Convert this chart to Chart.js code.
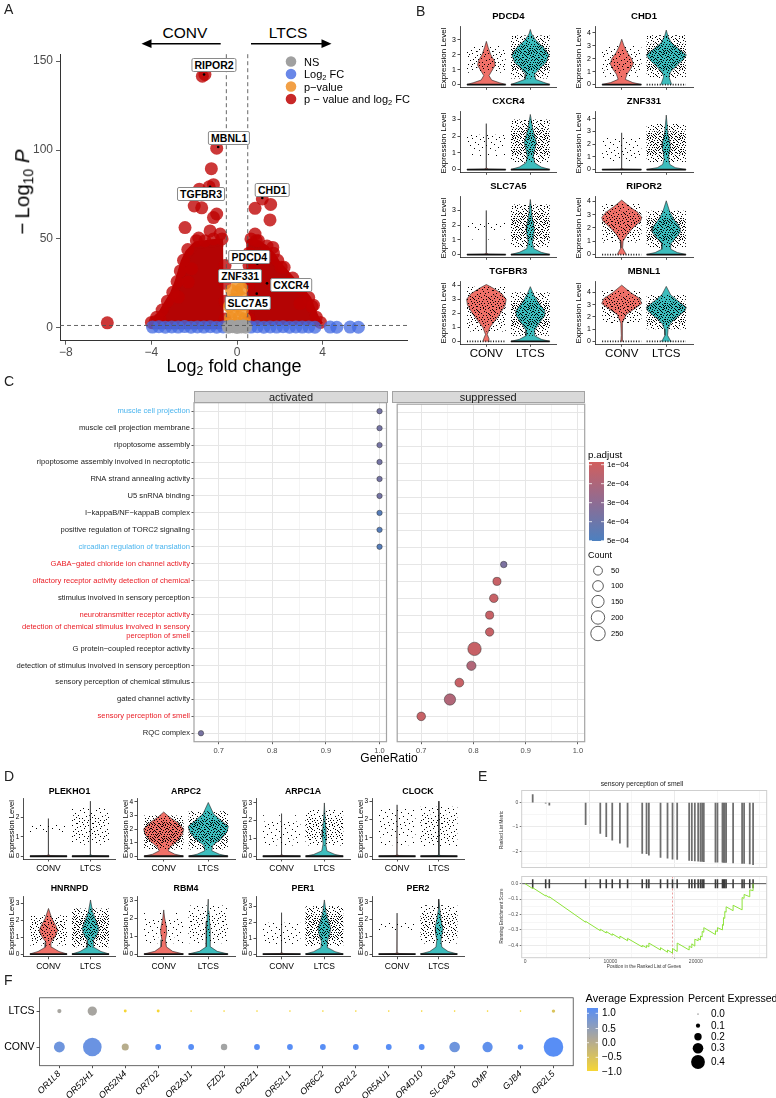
<!DOCTYPE html>
<html>
<head>
<meta charset="utf-8">
<title>Figure</title>
<script src="https://cdn.jsdelivr.net/npm/chart.js@4.4.1/dist/chart.umd.min.js"></script>
<style>
  html, body { margin: 0; padding: 0; background: #fff; }
  body { position: relative; width: 776px; height: 1098px; overflow: hidden;
         font-family: "Liberation Sans", Arial, Helvetica, sans-serif; color: #000; }
  canvas { position: absolute; }
  .t { position: absolute; white-space: nowrap; line-height: 1.15; }
  .t sub { font-size: 0.68em; vertical-align: -0.3em; line-height: 0; }
  .lab { position: absolute; white-space: nowrap; background: #fff; border: 1px solid #8a8a8a;
         border-radius: 2px; padding: 0 2px; font-weight: bold; font-size: 10.5px; line-height: 12px;
         transform: translate(-50%, -50%); }
  #ov { position: absolute; left: 0; top: 0; pointer-events: none; }
</style>
</head>
<body>
<script>
// ---------------- A: volcano plot ----------------
// [log2 fold change, -log10 p]
const volBoth = [
  [-1.62, 141.5], [-1.5, 142.5], [-0.95, 101], [-1.2, 89.5], [-1.1, 80.5], [-1.3, 79.3], [-1.76, 78],
  [-1.65, 67.5], [-2.0, 68.5], [-0.95, 64], [-1.1, 62], [-2.43, 56.4], [-1.26, 54.5], [-1.79, 50.5],
  [-0.79, 52.7], [-2.12, 33.2], [-2.28, 25.7],
  [1.18, 72.5], [1.57, 69.4], [0.84, 67.2], [1.54, 60.7], [1.67, 45.2], [2.06, 34.1], [0.84, 52.7], [0.9, 49],
  [3.57, 12.7], [2.94, 13.6], [-6.06, 2.8], [-3.83, 3.4], [-3.6, 5], [-2.74, 17.3],
  [-4.0, 3], [-3.75, 6], [-3.5, 10], [-3.25, 15], [-3.0, 20], [-2.8, 26], [-2.65, 32], [-2.5, 38],
  [-2.3, 44], [-1.9, 49], [-1.5, 49], [-1.1, 50], [-0.7, 50],
  [0.65, 50], [1.0, 49], [1.4, 46], [1.7, 42], [1.9, 38], [2.2, 34], [2.6, 28], [3.0, 22], [3.35, 17],
  [3.5, 12], [3.7, 6], [3.9, 3],
  [-0.56, 5], [-0.56, 15], [-0.56, 25], [-0.56, 35], [0.56, 5], [0.56, 15], [0.56, 25], [0.56, 35], [0.56, 42]
];
// outline of the solid core of significant genes (left and right)
const volCoreL = [[-0.62, 1.5], [-3.95, 1.5], [-3.7, 5], [-3.45, 9], [-3.2, 14], [-2.95, 19], [-2.75, 25],
  [-2.6, 31], [-2.45, 37], [-2.25, 42], [-1.9, 46.5], [-1.2, 47.5], [-0.65, 48]];
const volCoreR = [[0.62, 1.5], [0.62, 48], [1.0, 47], [1.35, 44], [1.65, 40], [1.85, 36], [2.15, 32],
  [2.55, 26.5], [2.95, 21], [3.3, 16], [3.45, 11], [3.65, 5.5], [3.85, 1.5]];
const volFC = [[-3.95, 0.4], [-3.65, 0.6], [-3.35, 0.3], [-3.05, 0.5], [-2.75, 0.4], [-2.45, 0.7], [-2.15, 0.3],
  [-1.85, 0.5], [-1.55, 0.4], [-1.25, 0.6], [-0.95, 0.3], [-0.65, 0.5], [0.65, 0.4], [0.95, 0.6], [1.25, 0.3],
  [1.55, 0.5], [1.85, 0.4], [2.15, 0.6], [2.45, 0.3], [2.75, 0.5], [3.05, 0.4], [3.35, 0.5],
  [3.64, 0.3], [4.35, 0.4], [4.66, 0.3], [5.28, 0.4], [5.67, 0.3]];
const volP = [[-0.38, 2], [0, 2.5], [0.38, 2.2], [-0.3, 5.5], [0.1, 6], [0.35, 5], [-0.2, 9], [0.25, 9.5],
  [-0.35, 12], [0, 12.5], [0.3, 13], [-0.15, 16], [0.2, 17], [0, 20], [-0.25, 21], [0.22, 22], [0.05, 24]];
const volNS = [[-0.4, 0.3], [-0.2, 0.6], [0, 0.2], [0.2, 0.5], [0.4, 0.3], [-0.3, 0.9], [0.3, 1.0], [0.05, 0.8]];
const volGenes = ['RIPOR2', 'MBNL1', 'TGFBR3', 'CHD1', 'PDCD4', 'ZNF331', 'CXCR4', 'SLC7A5'];
const volGeneFC = [-1.54, -0.88, -1.26, 1.18, 0.95, 0.85, 1.4, 0.92];
const volGeneP = [142.5, 101.7, 79.3, 73, 36, 27, 25, 19.2];
const FC_CUT = 0.5, P_CUT = 1.3;

// ---------------- B / D: violin plots ----------------
const GROUPS = ['CONV', 'LTCS'];
// violin outlines: [expression level, half width]
const PDCD4_CONV = [[0, .45], [.12, .3], [.3, .12], [.6, .06], [.9, .12], [1.3, .2], [1.6, .18], [2.0, .1], [2.5, .04], [2.9, 0]];
const PDCD4_LTCS = [[0, .45], [.15, .3], [.35, .12], [.7, .1], [1.1, .22], [1.5, .36], [2.0, .42], [2.5, .3], [3.0, .12], [3.4, .03], [3.7, 0]];
const CHD1_CONV = [[0, .45], [.15, .25], [.4, .08], [.8, .12], [1.2, .2], [1.6, .26], [2.0, .22], [2.5, .12], [3.0, .05], [3.5, 0]];
const CHD1_LTCS = [[0, .12], [.2, .1], [.6, .06], [1.0, .1], [1.5, .25], [2.0, .4], [2.3, .45], [2.7, .3], [3.2, .12], [3.7, .04], [4.2, 0]];
const CXCR4_CONV = [[0, .45], [.03, .05], [.08, .006], [2.75, 0]];
const CXCR4_LTCS = [[0, .45], [.15, .25], [.4, .1], [.8, .07], [1.2, .1], [1.6, .14], [2.0, .1], [2.5, .05], [3.0, .02], [3.3, 0]];
const ZNF331_CONV = [[0, .45], [.03, .05], [.08, .006], [2.9, 0]];
const ZNF331_LTCS = [[0, .45], [.15, .2], [.4, .08], [.8, .05], [1.2, .06], [1.7, .09], [2.2, .08], [2.8, .04], [3.5, .02], [4.3, 0]];
const SLC7A5_CONV = [[0, .45], [.03, .05], [.08, .006], [3.0, 0]];
const SLC7A5_LTCS = [[0, .45], [.15, .25], [.4, .08], [.8, .05], [1.2, .07], [1.6, .09], [2.0, .08], [2.6, .04], [3.2, .02], [3.75, 0]];
const RIPOR2_CONV = [[0, .1], [.2, .07], [.5, .02], [1.0, .03], [1.5, .12], [2.0, .25], [2.5, .42], [2.8, .45], [3.2, .35], [3.6, .18], [4.1, 0]];
const RIPOR2_LTCS = [[0, .45], [.15, .25], [.4, .1], [.8, .1], [1.2, .2], [1.7, .32], [2.1, .3], [2.6, .18], [3.2, .08], [4.05, 0]];
const TGFBR3_CONV = [[0, .08], [.2, .06], [.5, .02], [1.0, .08], [1.5, .2], [2.0, .32], [2.6, .43], [3.0, .45], [3.4, .35], [3.8, .15], [4.05, 0]];
const TGFBR3_LTCS = [[0, .45], [.15, .25], [.4, .1], [.8, .1], [1.3, .2], [1.8, .32], [2.2, .33], [2.7, .2], [3.3, .08], [3.9, 0]];
const MBNL1_CONV = [[0, .02], [.5, .01], [1.5, .02], [2.2, .1], [2.7, .3], [3.1, .45], [3.5, .4], [4.0, .2], [4.6, 0]];
const MBNL1_LTCS = [[0, .12], [.15, .08], [.5, .03], [1.0, .04], [1.5, .1], [2.0, .25], [2.5, .42], [2.8, .45], [3.2, .3], [3.8, .1], [4.5, 0]];
const PLEKHO1_CONV = [[0, .45], [.03, .05], [.08, .006], [1.95, 0]];
const PLEKHO1_LTCS = [[0, .45], [.03, .05], [.08, .006], [2.85, 0]];
const ARPC2_CONV = [[0, .45], [.15, .25], [.4, .1], [.7, .15], [1.1, .3], [1.6, .42], [2.0, .45], [2.5, .3], [2.9, .12], [3.25, 0]];
const ARPC2_LTCS = [[0, .45], [.15, .25], [.4, .08], [.8, .1], [1.3, .3], [1.8, .42], [2.2, .45], [2.6, .3], [3.1, .12], [3.95, 0]];
const ARPC1A_CONV = [[0, .45], [.03, .05], [.08, .006], [2.4, 0]];
const ARPC1A_LTCS = [[0, .45], [.1, .25], [.3, .06], [.7, .03], [1.1, .05], [1.5, .04], [2.0, .02], [3.0, 0]];
const CLOCK_CONV = [[0, .45], [.03, .05], [.08, .006], [2.8, 0]];
const CLOCK_LTCS = [[0, .45], [.03, .05], [.08, .006], [3.0, 0]];
const HNRNPD_CONV = [[0, .45], [.15, .25], [.4, .08], [.7, .06], [1.0, .15], [1.4, .22], [1.7, .17], [2.1, .08], [2.7, 0]];
const HNRNPD_LTCS = [[0, .45], [.15, .25], [.4, .08], [.8, .07], [1.1, .15], [1.5, .2], [1.9, .14], [2.5, .05], [3.2, 0]];
const RBM4_CONV = [[0, .45], [.15, .2], [.4, .06], [.8, .04], [1.2, .07], [1.5, .06], [2.0, .02], [2.45, 0]];
const RBM4_LTCS = [[0, .45], [.15, .2], [.4, .05], [.9, .04], [1.3, .05], [1.8, .03], [2.4, .015], [3.05, 0]];
const PER1_CONV = [[0, .45], [.03, .05], [.08, .006], [2.6, 0]];
const PER1_LTCS = [[0, .45], [.15, .25], [.4, .08], [.8, .07], [1.2, .12], [1.6, .15], [2.0, .1], [2.6, .04], [3.4, 0]];
const PER2_CONV = [[0, .45], [.03, .05], [.08, .006], [2.35, 0]];
const PER2_LTCS = [[0, .45], [.15, .22], [.4, .07], [.8, .05], [1.2, .08], [1.5, .09], [2.0, .05], [2.6, .02], [3.15, 0]];

const genesB = ['PDCD4', 'CHD1', 'CXCR4', 'ZNF331', 'SLC7A5', 'RIPOR2', 'TGFBR3', 'MBNL1'];
const maxB = [3.7, 4.25, 3.3, 4.35, 3.75, 4.15, 4.05, 4.65];
// expressing-cell clouds: [low, high, density 1-5] for CONV, LTCS
const cloudB = [
  [[0.8, 2.6, 3], [0.4, 3.3, 5]], [[0.6, 3.0, 3], [0.5, 3.8, 5]],
  [[0.8, 2.4, 2], [0.4, 3.0, 5]], [[0.6, 2.7, 2], [0.6, 3.6, 5]],
  [[0.6, 2.7, 1], [0.5, 3.4, 5]], [[0.9, 3.8, 4], [0.5, 3.3, 5]],
  [[0.7, 3.9, 4], [0.4, 3.5, 5]], [[1.5, 4.2, 4], [1.0, 3.8, 5]]
];
const genesD = ['PLEKHO1', 'ARPC2', 'ARPC1A', 'CLOCK', 'HNRNPD', 'RBM4', 'PER1', 'PER2'];
const maxD = [2.85, 4.05, 3.1, 3.0, 3.25, 3.05, 3.45, 3.15];
const cloudD = [
  [[0.8, 1.9, 1], [0.6, 2.5, 3]], [[0.5, 3.0, 5], [0.5, 3.3, 5]],
  [[0.6, 2.3, 2], [0.6, 2.6, 4]], [[0.6, 2.7, 2], [0.5, 2.7, 3]],
  [[0.5, 2.3, 4], [0.4, 2.7, 5]], [[0.6, 2.3, 2], [0.6, 2.7, 3]],
  [[0.6, 2.3, 2], [0.5, 3.0, 5]], [[0.8, 2.2, 1], [0.6, 2.8, 4]]
];
const SHAPES = {
  PDCD4: [PDCD4_CONV, PDCD4_LTCS], CHD1: [CHD1_CONV, CHD1_LTCS], CXCR4: [CXCR4_CONV, CXCR4_LTCS],
  ZNF331: [ZNF331_CONV, ZNF331_LTCS], SLC7A5: [SLC7A5_CONV, SLC7A5_LTCS], RIPOR2: [RIPOR2_CONV, RIPOR2_LTCS],
  TGFBR3: [TGFBR3_CONV, TGFBR3_LTCS], MBNL1: [MBNL1_CONV, MBNL1_LTCS], PLEKHO1: [PLEKHO1_CONV, PLEKHO1_LTCS],
  ARPC2: [ARPC2_CONV, ARPC2_LTCS], ARPC1A: [ARPC1A_CONV, ARPC1A_LTCS], CLOCK: [CLOCK_CONV, CLOCK_LTCS],
  HNRNPD: [HNRNPD_CONV, HNRNPD_LTCS], RBM4: [RBM4_CONV, RBM4_LTCS], PER1: [PER1_CONV, PER1_LTCS],
  PER2: [PER2_CONV, PER2_LTCS]
};

// ---------------- C: GO enrichment dot plot ----------------
const goTerms = [
  'muscle cell projection', 'muscle cell projection membrane', 'ripoptosome assembly',
  'ripoptosome assembly involved in necroptotic', 'RNA strand annealing activity', 'U5 snRNA binding',
  'I\u2212kappaB/NF\u2212kappaB complex', 'positive regulation of TORC2 signaling', 'circadian regulation of translation',
  'GABA\u2212gated chloride ion channel activity', 'olfactory receptor activity detection of chemical',
  'stimulus involved in sensory perception', 'neurotransmitter receptor activity',
  ['detection of chemical stimulus involved in sensory', 'perception of smell'],
  'G protein\u2212coupled receptor activity', 'detection of stimulus involved in sensory perception',
  'sensory perception of chemical stimulus', 'gated channel activity', 'sensory perception of smell', 'RQC complex'
];
const goSide = ['activated', 'activated', 'activated', 'activated', 'activated', 'activated', 'activated',
  'activated', 'activated', 'suppressed', 'suppressed', 'suppressed', 'suppressed', 'suppressed', 'suppressed',
  'suppressed', 'suppressed', 'suppressed', 'suppressed', 'activated'];
const goRatio = [1.0, 1.0, 1.0, 1.0, 1.0, 1.0, 1.0, 1.0, 1.0, 0.858, 0.845, 0.839, 0.831, 0.831, 0.802, 0.796, 0.773, 0.755, 0.70, 0.667];
const goPadj = [3.8e-4, 3.8e-4, 3.8e-4, 3.8e-4, 3.8e-4, 3.8e-4, 4.7e-4, 4.7e-4, 4.7e-4, 3.6e-4, 1.3e-4, 1.3e-4,
  1.3e-4, 1.3e-4, 1.3e-4, 2.0e-4, 1.3e-4, 2.0e-4, 1.3e-4, 3.7e-4];
const goCount = [3, 3, 3, 3, 3, 3, 3, 3, 3, 12, 35, 45, 35, 40, 200, 60, 50, 120, 45, 3];
const padjTicks = [1e-4, 2e-4, 3e-4, 4e-4, 5e-4];
const countTicks = [50, 100, 150, 200, 250];

// ---------------- E: GSEA running score ----------------
const hitPos = [897, 2417, 2846, 7096, 8811, 9513, 10214, 11111, 12008, 13723, 14230, 14503, 15867, 16686, 17271,
  17817, 19220, 19532, 19883, 20273, 20546, 20741, 20935, 22300, 22534, 23119, 23236, 23392, 23548, 24366, 25419,
  25653, 26316, 26706];
const hitMetric = [0.33, -0.02, -0.1, -0.91, -1.27, -1.4, -1.54, -1.67, -1.83, -2.09, -2.1, -2.16, -2.26, -2.29,
  -2.33, -2.34, -2.38, -2.39, -2.4, -2.41, -2.42, -2.42, -2.43, -2.45, -2.45, -2.45, -2.46, -2.46, -2.46, -2.48,
  -2.5, -2.5, -2.52, -2.55];
const esCurve = [[0, 0], [897, -0.032], [897, -0.026], [2417, -0.08], [2417, -0.075], [2846, -0.09], [2846, -0.085],
  [7096, -0.25], [7096, -0.244], [8811, -0.305], [8811, -0.295], [9513, -0.32], [9513, -0.31], [10214, -0.335],
  [10214, -0.325], [11111, -0.355], [11111, -0.34], [12008, -0.37], [12008, -0.355], [13723, -0.41], [13723, -0.4],
  [14230, -0.415], [14230, -0.4], [14503, -0.41], [14503, -0.385], [15867, -0.43], [15867, -0.415], [16686, -0.445],
  [16686, -0.43], [17271, -0.45], [17271, -0.42], [17817, -0.44], [17817, -0.385], [19220, -0.43], [19220, -0.405],
  [19532, -0.415], [19532, -0.39], [19883, -0.405], [19883, -0.36], [20273, -0.37], [20273, -0.355], [20546, -0.365],
  [20546, -0.34], [20741, -0.345], [20741, -0.31], [20935, -0.315], [20935, -0.285], [22300, -0.33], [22300, -0.305],
  [22534, -0.31], [22534, -0.285], [23119, -0.30], [23119, -0.265], [23236, -0.27], [23236, -0.22], [23392, -0.225],
  [23392, -0.18], [23548, -0.185], [23548, -0.15], [24366, -0.175], [24366, -0.14], [25419, -0.17], [25419, -0.09],
  [25653, -0.095], [25653, -0.07], [26316, -0.085], [26316, -0.04], [26706, -0.045], [26706, 0]];
const esPeakPos = 17271;

// ---------------- F: dot plot ----------------
const genesF = ['OR1L8', 'OR52H1', 'OR52N4', 'OR7D2', 'OR2AJ1', 'FZD2', 'OR2Z1', 'OR52L1', 'OR6C2', 'OR2L2',
  'OR5AU1', 'OR4D10', 'SLC6A3', 'OMP', 'GJB4', 'OR2L5'];
const pctCONV = [0.31, 0.55, 0.19, 0.15, 0.15, 0.17, 0.15, 0.15, 0.15, 0.15, 0.15, 0.15, 0.30, 0.29, 0.14, 0.58];
const pctLTCS = [0.10, 0.26, 0.06, 0.06, 0.02, 0.02, 0.02, 0.02, 0.02, 0.02, 0.02, 0.02, 0.02, 0.02, 0.02, 0.075];
const avgCONV = [0.75, 0.8, -0.1, 1, 1, 0.15, 1, 1, 1, 1, 1, 1, 0.75, 0.9, 1, 1];
const avgLTCS = [0.1, 0.1, -1, -1, -1, -1, -1, -1, -1, -1, -1, -1, -1, -1, -1, -0.6];
const avgTicks = [1.0, 0.5, 0.0, -0.5, -1.0];
const pctTicks = [0.0, 0.1, 0.2, 0.3, 0.4];

// ======================================================================
const FONT = '"Liberation Sans", Arial, Helvetica, sans-serif';
Chart.defaults.font.family = FONT;
Chart.defaults.animation = false;
Chart.defaults.events = [];

const MINUS = '\u2212';
const fmt = v => String(v).replace('-', MINUS);

// draws a box round the plotting panel
Chart.register({
  id: 'frame',
  afterDatasetsDraw(chart, args, o) {
    if (!o || !o.color) return;
    const a = chart.chartArea, ctx = chart.ctx;
    ctx.save();
    ctx.strokeStyle = o.color;
    ctx.lineWidth = o.width || 1;
    ctx.strokeRect(a.left, a.top, a.right - a.left, a.bottom - a.top);
    ctx.restore();
  }
});

function T(txt, x, y, o = {}) {
  const d = document.createElement('div');
  d.className = 't';
  if (o.html) d.innerHTML = txt; else d.textContent = txt;
  const s = d.style;
  s.left = x + 'px';
  s.top = y + 'px';
  s.fontSize = (o.size || 10) + 'px';
  s.fontWeight = o.bold ? 'bold' : 'normal';
  if (o.italic) s.fontStyle = 'italic';
  s.color = o.color || '#000';
  const ax = o.align === 'left' ? '0' : o.align === 'right' ? '-100%' : '-50%';
  s.transform = 'translate(' + ax + ',-50%)' + (o.rot ? ' rotate(' + o.rot + 'deg)' : '');
  document.body.appendChild(d);
  return d;
}

// place a chart so that its plotting area is exactly area = [left, top, right, bottom]
function mk(area, pad, config) {
  const [l, t, r, b] = area;
  const cl = Math.round(l - pad[0]), ct = Math.round(t - pad[1]);
  const w = Math.round(r - cl + pad[2]), h = Math.round(b - ct + pad[3]);
  const pl = l - cl, pt = t - ct, pr = w - (r - cl), pb = h - (b - ct);
  const cv = document.createElement('canvas');
  cv.width = w; cv.height = h;
  cv.style.left = cl + 'px'; cv.style.top = ct + 'px';
  cv.style.width = w + 'px'; cv.style.height = h + 'px';
  document.body.appendChild(cv);
  const opt = config.options;
  opt.responsive = false;
  opt.maintainAspectRatio = false;
  opt.animation = false;
  opt.devicePixelRatio = 1;
  opt.layout = {padding: {left: 0, top: pt, right: pr, bottom: 0}};
  opt.scales.x.afterFit = s => { s.height = pb; };
  opt.scales.y.afterFit = s => { s.width = pl; };
  opt.plugins = Object.assign({legend: {display: false}, tooltip: {enabled: false}}, opt.plugins || {});
  const ch = new Chart(cv, config);
  ch.$ox = cl; ch.$oy = ct;
  return ch;
}

function lin(min, max, ticks, o = {}) {
  return {
    type: 'linear', min: min, max: max, offset: false, reverse: !!o.reverse,
    afterBuildTicks: s => { s.ticks = ticks.map(v => ({value: v})); },
    grid: Object.assign({display: true, drawOnChartArea: false, drawTicks: true, tickLength: o.tl ?? 3,
      tickWidth: 0.8, tickColor: o.tc || '#222', color: 'rgba(0,0,0,0)', lineWidth: 1}, o.grid || {}),
    border: {display: o.border !== false, color: o.bc || '#222', width: o.bw || 0.8},
    ticks: {display: o.labels !== false, color: o.color || '#333', padding: o.pad ?? 2, autoSkip: false,
      maxRotation: o.rot || 0, minRotation: o.rot || 0,
      font: {size: o.size || 8, style: o.italic ? 'italic' : 'normal', lineHeight: o.lh || 1.2},
      callback: o.cb || fmt}
  };
}

const mix = (a, b, t) => a.map((v, i) => Math.round(v + (b[i] - v) * t));
const rgb = c => 'rgb(' + c.join(',') + ')';
function ramp3(stops, t) {   // t in [0,1]
  t = Math.max(0, Math.min(1, t));
  return t < 0.5 ? mix(stops[0], stops[1], t * 2) : mix(stops[1], stops[2], (t - 0.5) * 2);
}
const PADJ_STOPS = [[209, 95, 94], [144, 108, 146], [76, 128, 192]];
const padjCol = p => rgb(ramp3(PADJ_STOPS, (p - 1e-4) / 4e-4));
const countR = c => 2.7 + 0.322 * (Math.sqrt(c) - Math.sqrt(3));
const AVG_STOPS = [[246, 214, 53], [176, 168, 150], [88, 142, 245]];
const avgCol = v => rgb(ramp3(AVG_STOPS, (v + 1) / 2));
const pctR = p => 0.5 + 16 * p;

// stipple texture for the jittered cells of the violin plots (fixed tile, a fill style)
const DOTS = [[3, 1], [11, 0], [7, 3], [14, 4], [1, 6], [9, 7], [5, 9], [13, 10], [2, 12], [10, 13], [6, 15], [15, 14],
  [0, 2], [8, 1], [4, 5], [12, 6], [15, 8], [2, 9], [7, 11], [11, 11], [0, 14], [5, 13], [13, 2], [9, 4],
  [6, 7], [14, 12], [3, 15], [10, 9], [1, 3], [12, 15], [4, 11], [8, 14], [15, 1], [6, 0], [11, 5], [2, 4],
  [13, 7], [0, 10], [9, 12], [5, 2], [7, 6], [1, 8], [10, 2], [14, 9], [3, 13], [12, 12], [8, 9], [4, 0],
  [15, 11], [6, 4], [0, 6], [11, 14], [2, 1], [9, 15], [13, 4], [5, 11], [14, 0], [7, 13], [1, 15], [10, 6],
  [3, 7], [12, 9], [8, 3], [4, 14]];
function dotTile(n) {
  const t = document.createElement('canvas');
  t.width = 16; t.height = 16;
  const g = t.getContext('2d');
  g.fillStyle = '#000';
  DOTS.slice(0, n).forEach(d => g.fillRect(d[0], d[1], 1, 1));
  return g.createPattern(t, 'repeat');
}
const PAT = ['rgba(0,0,0,0)', dotTile(5), dotTile(12), dotTile(22), dotTile(38), dotTile(64)];

// ---------------- panel A ----------------
const xy = arr => arr.map(p => ({x: p[0], y: p[1]}));
const volGuides = {
  id: 'volGuides',
  afterDatasetsDraw(chart) {
    const {ctx, chartArea: a, scales: {x, y}} = chart;
    ctx.save();
    ctx.setLineDash([4, 3]);
    ctx.strokeStyle = '#555';
    ctx.lineWidth = 0.9;
    ctx.beginPath();
    [-FC_CUT, FC_CUT].forEach(v => {
      const px = x.getPixelForValue(v);
      ctx.moveTo(px, a.top); ctx.lineTo(px, a.bottom);
    });
    const py = y.getPixelForValue(P_CUT);
    ctx.moveTo(a.left, py); ctx.lineTo(a.right, py);
    ctx.stroke();
    ctx.restore();
  }
};
const RED = 'rgba(190,0,0,0.78)';
const core = d => ({type: 'line', data: xy(d), showLine: true, fill: 'shape', backgroundColor: '#b40404',
  borderColor: '#b40404', borderWidth: 8, borderJoinStyle: 'round', pointRadius: 0, order: 9, clip: false});
const volChart = mk([60, 52, 407, 340.7], [60, 8, 8, 30], {
  type: 'scatter',
  data: {datasets: [
    {data: volGeneFC.map((v, i) => ({x: v, y: volGeneP[i]})), pointRadius: 1.3, backgroundColor: '#000', borderWidth: 0, order: 0},
    {data: xy(volNS), pointRadius: 6.5, backgroundColor: 'rgba(160,160,160,0.9)', borderWidth: 0, order: 1},
    {data: xy(volFC), pointRadius: 6.5, backgroundColor: 'rgba(65,105,225,0.75)', borderWidth: 0, order: 2},
    {data: xy(volP), pointRadius: 6.5, backgroundColor: 'rgba(240,145,35,0.8)', borderWidth: 0, order: 3},
    {data: xy(volBoth), pointRadius: 6.5, backgroundColor: RED, borderWidth: 0, order: 4, clip: false},
    core(volCoreL), core(volCoreR)
  ]},
  options: {
    scales: {
      x: lin(-8.27, 7.94, [-8, -4, 0, 4], {size: 12, color: '#4d4d4d', tl: 4, tc: '#333', bc: '#333', bw: 1, pad: 1}),
      y: lin(-7.26, 153.9, [0, 50, 100, 150], {size: 12, color: '#4d4d4d', tl: 4, tc: '#333', bc: '#333', bw: 1, pad: 3})
    }
  },
  plugins: [volGuides]
});
volGenes.forEach((g, i) => {
  const OFF = [[10, -9], [11, -9], [-9, 7], [10, -8], [-8, -7], [-15, -4], [24, 2], [-9, 9]][i];
  const px = volChart.scales.x.getPixelForValue(volGeneFC[i]) + volChart.$ox;
  const py = volChart.scales.y.getPixelForValue(volGeneP[i]) + volChart.$oy;
  const d = document.createElement('div');
  d.className = 'lab';
  d.textContent = g;
  d.style.left = (px + OFF[0]) + 'px';
  d.style.top = (py + OFF[1]) + 'px';
  document.body.appendChild(d);
});
T(MINUS + '\u2009Log<sub>10</sub> <i>P</i>', 22, 192, {html: true, size: 20.5, rot: -90});
T('Log<sub>2</sub> fold change', 234, 366, {html: true, size: 18});
T('CONV', 185, 33, {size: 15.5});
T('LTCS', 288, 33, {size: 15.5});
const legA = [['NS', 'rgb(160,160,160)'], ['Log<sub>2</sub> FC', 'rgb(105,135,232)'], ['p' + MINUS + 'value', 'rgb(242,160,70)'],
  ['p ' + MINUS + ' value and log<sub>2</sub> FC', 'rgb(200,40,40)']];

// ---------------- panels B and D ----------------
const JIT = 0.44;
const VCOL = ['#ef7068', '#3dbdbd'];
function cloudRect(c, lo, hi, pat, ord) {
  return {type: 'line', data: [{x: c - JIT, y: lo}, {x: c + JIT, y: lo}, {x: c + JIT, y: hi}, {x: c - JIT, y: hi}],
    showLine: true, fill: 'shape', backgroundColor: pat, borderColor: 'rgba(0,0,0,0)', borderWidth: 0,
    pointRadius: 0, order: ord, clip: false};
}
function violin(gene, max, clouds, area, o) {
  const ds = [];
  SHAPES[gene].forEach((s, g) => {
    const c = g + 1;
    const right = s.map(p => ({x: c + p[1], y: p[0]}));
    const left = s.slice().reverse().map(p => ({x: c - p[1], y: p[0]}));
    ds.push({type: 'line', data: right.concat(left), showLine: true, fill: 'shape', backgroundColor: VCOL[g],
      borderColor: '#222', borderWidth: 0.6, pointRadius: 0, order: 5, clip: false});
    const cl = clouds[g], m = (cl[1] - cl[0]) * 0.2;
    ds.push(cloudRect(c, cl[0], cl[1], PAT[cl[2] - 1], 3));
    ds.push(cloudRect(c, cl[0] + m, cl[1] - m, PAT[cl[2]], 2));
    ds.push({type: 'line', data: [{x: c - JIT, y: 0}, {x: c + JIT, y: 0}], showLine: true, borderColor: '#111',
      borderWidth: 1.8, borderDash: s[0][1] < 0.2 ? [1, 1.6] : [], pointRadius: 0, order: 1, clip: false});
  });
  const yt = [];
  for (let v = 0; v <= max; v++) yt.push(v);
  mk(area, [o.padL, 5, 3, o.padB], {
    type: 'scatter',
    data: {datasets: ds},
    options: {scales: {
      x: lin(0.4, 2.6, [1, 2], {cb: v => o.showX ? GROUPS[v - 1] : '', size: o.xSize, color: '#000', pad: o.xPad, tl: 2.5}),
      y: lin(-0.05 * max, 1.05 * max, yt, {size: o.ySize, color: '#000', pad: 1.5, tl: 2.5})
    }}
  });
  T(gene, (area[0] + area[2]) / 2, area[1] - o.titleOff, {size: o.titleSize, bold: true});
  T('Expression Level', area[0] - o.ytOff, (area[1] + area[3]) / 2, {size: o.ytSize, rot: -90});
}
const colsB = [[460, 556.7], [595, 693]];
genesB.forEach((g, i) => {
  const r = Math.floor(i / 2), c = colsB[i % 2];
  violin(g, maxB[i], cloudB[i], [c[0], 26 + 85 * r, c[1], 89.3 + 85 * r],
    {showX: r === 3, padL: 15, padB: r === 3 ? 18 : 4, xSize: 11.5, xPad: 0, ySize: 7, titleSize: 9.5, titleOff: 10, ytOff: 16, ytSize: 8});
});
const colsD = [[23.3, 115.7], [137, 235], [256, 350], [372, 464]];
const rowsD = [[798, 859], [895.8, 956.8]];
genesD.forEach((g, i) => {
  const r = Math.floor(i / 4), c = colsD[i % 4];
  violin(g, maxD[i], cloudD[i], [c[0], rowsD[r][0], c[1], rowsD[r][1]],
    {showX: true, padL: 10, padB: 16, xSize: 8.5, xPad: 2.5, ySize: 6.5, titleSize: 8.8, titleOff: 7.5, ytOff: 11.5, ytSize: 7.6});
});

// ---------------- panel C ----------------
const BLUE_TERMS = [0, 8], RED_TERMS = [9, 10, 12, 13, 18];
const termColor = i => BLUE_TERMS.includes(i) ? '#4ab4ee' : RED_TERMS.includes(i) ? '#ea1b23' : '#1a1a1a';
const isMajor = v => Math.abs(v * 10 - Math.round(v * 10)) < 1e-6;
function goChart(side, area, pad, showY) {
  const pts = [];
  goTerms.forEach((t, i) => {
    if (goSide[i] === side) pts.push({x: goRatio[i], y: i, padj: goPadj[i], count: goCount[i]});
  });
  const rows = goTerms.map((t, i) => i);
  const xs = lin(0.654, 1.013, [0.7, 0.75, 0.8, 0.85, 0.9, 0.95, 1.0], {
    size: 7.5, color: '#4d4d4d', border: false, tl: 2.5, pad: 2,
    cb: v => isMajor(v) ? v.toFixed(1) : '',
    grid: {drawOnChartArea: true, color: c => c.tick && isMajor(c.tick.value) ? '#e6e6e6' : '#f4f4f4',
      tickColor: c => c.tick && isMajor(c.tick.value) ? '#333' : 'rgba(0,0,0,0)'}
  });
  const ys = lin(-0.5, 19.5, rows, {
    reverse: true, size: 7.6, lh: 1.1, border: false, tl: 2.5, pad: 1.5, labels: showY,
    cb: v => goTerms[v],
    grid: {drawOnChartArea: true, color: '#e6e6e6', drawTicks: showY, tickColor: '#333'}
  });
  ys.ticks.color = c => termColor(c.tick ? c.tick.value : 0);
  mk(area, pad, {
    type: 'scatter',
    data: {datasets: [{data: pts, pointRadius: c => c.raw ? countR(c.raw.count) : 3,
      backgroundColor: c => c.raw ? padjCol(c.raw.padj) : '#888', borderColor: '#333', borderWidth: 0.5, clip: false}]},
    options: {plugins: {frame: {color: '#a3a3a3', width: 1.2}}, scales: {x: xs, y: ys}}
  });
}
goChart('activated', [194, 402.7, 388, 741.7], [194, 6, 3, 14], true);
goChart('suppressed', [391.7, 402.7, 584.7, 741.7], [2, 6, 8, 14], false);
T('GeneRatio', 389, 759, {size: 12});

// ---------------- panel E ----------------
const eGrid = (majors) => ({drawOnChartArea: true, drawTicks: true,
  color: c => c.tick && majors.some(m => Math.abs(m - c.tick.value) < 1e-9) ? '#ebebeb' : '#f6f6f6',
  tickColor: c => c.tick && majors.some(m => Math.abs(m - c.tick.value) < 1e-9) ? '#555' : 'rgba(0,0,0,0)'});
const eXT = [0, 5000, 10000, 15000, 20000, 25000], eXM = [0, 10000, 20000];
mk([521.7, 789, 766.7, 870], [24, 3, 3, 2], {
  type: 'bar',
  data: {datasets: [{data: hitPos.map((p, i) => ({x: p, y: hitMetric[i]})), backgroundColor: '#6e6e6e',
    barThickness: 1.1, borderWidth: 0}]},
  options: {
    plugins: {frame: {color: '#cfcfcf', width: 1}},
    scales: {
      x: lin(-390, 28300, eXT, {labels: false, border: false, tl: 0, grid: Object.assign(eGrid(eXM), {drawTicks: false})}),
      y: lin(-2.67, 0.5, [-2.5, -2, -1.5, -1, -0.5, 0], {size: 5, color: '#4d4d4d', border: false, tl: 2, pad: 1.5,
        cb: v => Number.isInteger(v) ? fmt(v) : '', grid: eGrid([-2, -1, 0])})
    }
  }
});
const esGuides = {
  id: 'esGuides',
  beforeDatasetsDraw(chart) {
    const {ctx, chartArea: a, scales: {x, y}} = chart;
    ctx.save();
    ctx.strokeStyle = '#e27777';
    ctx.lineWidth = 0.7;
    ctx.setLineDash([2, 2]);
    const px = x.getPixelForValue(esPeakPos);
    ctx.beginPath(); ctx.moveTo(px, a.top); ctx.lineTo(px, a.bottom); ctx.stroke();
    ctx.setLineDash([]);
    ctx.strokeStyle = '#444';
    ctx.lineWidth = 0.9;
    const py = y.getPixelForValue(0);
    ctx.beginPath(); ctx.moveTo(a.left, py); ctx.lineTo(a.right, py); ctx.stroke();
    ctx.restore();
  }
};
mk([521.7, 875, 766.7, 957.7], [24, 3, 3, 9], {
  type: 'line',
  data: {datasets: [
    {data: xy(esCurve), borderColor: '#8ee33a', borderWidth: 1, pointRadius: 0, tension: 0, order: 0},
    {type: 'bar', data: hitPos.map(p => ({x: p, y: [-0.028, 0.026]})), backgroundColor: '#3a3a3a', barThickness: 0.9,
      borderWidth: 0, order: 1}
  ]},
  options: {
    plugins: {frame: {color: '#cfcfcf', width: 1}},
    scales: {
      x: lin(-390, 28300, eXT, {size: 5, color: '#4d4d4d', border: false, tl: 1, pad: 0,
        cb: v => eXM.includes(v) ? String(v) : '', grid: eGrid(eXM)}),
      y: lin(-0.48, 0.0465, [-0.45, -0.4, -0.35, -0.3, -0.25, -0.2, -0.15, -0.1, -0.05, 0], {size: 5, color: '#4d4d4d',
        border: false, tl: 2, pad: 1.5, cb: v => isMajor(v) ? fmt(v.toFixed(1)) : '',
        grid: eGrid([-0.4, -0.3, -0.2, -0.1, 0])})
    }
  },
  plugins: [esGuides]
});
T('sensory perception of smell', 642, 784, {size: 6.8, color: '#222'});
T('Ranked List Metric', 502, 829.5, {size: 4.6, rot: -90, color: '#333'});
T('Running Enrichment Score', 502, 916, {size: 4.6, rot: -90, color: '#333'});
T('Position in the Ranked List of Genes', 644, 966.5, {size: 4.6, color: '#333'});

// ---------------- panel F ----------------
const ptsF = [];
genesF.forEach((g, i) => {
  ptsF.push({x: i, y: 0, pct: pctCONV[i], avg: avgCONV[i]});
  ptsF.push({x: i, y: 1, pct: pctLTCS[i], avg: avgLTCS[i]});
});
mk([39.6, 994.3, 579, 1065.7], [40, 6, 4, 32], {
  type: 'scatter',
  data: {datasets: [{data: ptsF, pointRadius: c => c.raw ? pctR(c.raw.pct) : 1,
    backgroundColor: c => c.raw ? avgCol(c.raw.avg) : '#000', borderWidth: 0, clip: false}]},
  options: {
    plugins: {frame: {color: '#444', width: 0.8}},
    scales: {
      x: lin(-0.6, 15.6, genesF.map((g, i) => i), {cb: v => genesF[v], italic: true, size: 9, rot: 45,
        color: '#000', border: false, tl: 2.5, pad: 0.5}),
      y: lin(-0.52, 1.37, [0, 1], {cb: v => GROUPS[v], size: 10.5, color: '#000', border: false, tl: 3, pad: 2})
    }
  }
});

// ---------------- legends, arrows, panel letters ----------------
const svg = [];
// arrows over the volcano plot
svg.push('<line x1="220.7" y1="43.7" x2="148" y2="43.7" stroke="#000" stroke-width="1.6"/>');
svg.push('<polygon points="141.5,43.7 151.5,39.3 151.5,48.1" fill="#000"/>');
svg.push('<line x1="251" y1="43.7" x2="325" y2="43.7" stroke="#000" stroke-width="1.6"/>');
svg.push('<polygon points="331.5,43.7 321.5,39.3 321.5,48.1" fill="#000"/>');
// legend A
const legAY = [61.5, 74, 86.5, 99];
legA.forEach((l, i) => {
  svg.push('<circle cx="291" cy="' + legAY[i] + '" r="5.3" fill="' + l[1] + '"/>');
  T(l[0], 304, legAY[i], {html: true, size: 11, align: 'left'});
});
// legend C
T('p.adjust', 588, 455, {size: 9.8, align: 'left'});
const cbarC = document.createElement('div');
Object.assign(cbarC.style, {position: 'absolute', left: '589px', top: '462px', width: '15px', height: '79px',
  background: 'linear-gradient(to bottom,' + padjCol(1e-4) + ',' + padjCol(3e-4) + ',' + padjCol(5e-4) + ')'});
document.body.appendChild(cbarC);
const padjY = [464.7, 483.7, 502.7, 521.7, 540.7];
padjTicks.forEach((p, i) => {
  svg.push('<line x1="589" x2="592" y1="' + padjY[i] + '" y2="' + padjY[i] + '" stroke="#fff" stroke-width="0.8"/>');
  svg.push('<line x1="601" x2="604" y1="' + padjY[i] + '" y2="' + padjY[i] + '" stroke="#fff" stroke-width="0.8"/>');
  T(p.toExponential(0).replace('e-4', 'e' + MINUS + '04'), 607, padjY[i], {size: 7.8, align: 'left'});
});
T('Count', 588, 555, {size: 9, align: 'left'});
const countY = [570.7, 586, 601.5, 617.5, 633.5];
countTicks.forEach((c, i) => {
  svg.push('<circle cx="598" cy="' + countY[i] + '" r="' + countR(c).toFixed(2) + '" fill="#fff" stroke="#333" stroke-width="0.8"/>');
  T(String(c), 611, countY[i], {size: 7.5, align: 'left'});
});
// strips C
[['activated', 194, 388], ['suppressed', 391.7, 584.7]].forEach(s => {
  const d = document.createElement('div');
  Object.assign(d.style, {position: 'absolute', left: s[1] + 'px', top: '390.7px', width: (s[2] - s[1] - 2) + 'px',
    height: '10.5px', background: '#d9d9d9', border: '1px solid #a3a3a3'});
  document.body.appendChild(d);
  T(s[0], (s[1] + s[2]) / 2, 396.5, {size: 11, color: '#1a1a1a'});
});
// legend F
T('Average Expression', 585.5, 998, {size: 11, align: 'left'});
const cbarF = document.createElement('div');
Object.assign(cbarF.style, {position: 'absolute', left: '586.6px', top: '1008.3px', width: '11.4px', height: '63px',
  background: 'linear-gradient(to bottom,' + avgCol(1.08) + ',' + avgCol(0) + ',' + avgCol(-1.08) + ')'});
document.body.appendChild(cbarF);
const avgY = [1013.3, 1028.5, 1042.7, 1057.3, 1071.5];
avgTicks.forEach((v, i) => {
  svg.push('<line x1="586.6" x2="589" y1="' + avgY[i] + '" y2="' + avgY[i] + '" stroke="#fff" stroke-width="0.8"/>');
  svg.push('<line x1="595.6" x2="598" y1="' + avgY[i] + '" y2="' + avgY[i] + '" stroke="#fff" stroke-width="0.8"/>');
  T(fmt(v.toFixed(1)), 602, avgY[i], {size: 10, align: 'left'});
});
T('Percent Expressed', 688, 998, {size: 10.6, align: 'left'});
const pctY = [1014, 1025.7, 1036.8, 1048.3, 1062];
pctTicks.forEach((p, i) => {
  svg.push('<circle cx="698" cy="' + pctY[i] + '" r="' + pctR(p).toFixed(2) + '" fill="#000"/>');
  T(p.toFixed(1), 711, pctY[i], {size: 10, align: 'left'});
});
const ov = document.createElementNS('http://www.w3.org/2000/svg', 'svg');
ov.setAttribute('id', 'ov');
ov.setAttribute('width', '776');
ov.setAttribute('height', '1098');
ov.innerHTML = svg.join('');
document.body.appendChild(ov);

[['A', 4, 9], ['B', 416, 11], ['C', 4, 381], ['D', 4, 776], ['E', 478, 776], ['F', 4, 980]].forEach(p => {
  T(p[0], p[1], p[2], {size: 14, align: 'left', color: '#222'});
});
</script>
</body>
</html>
